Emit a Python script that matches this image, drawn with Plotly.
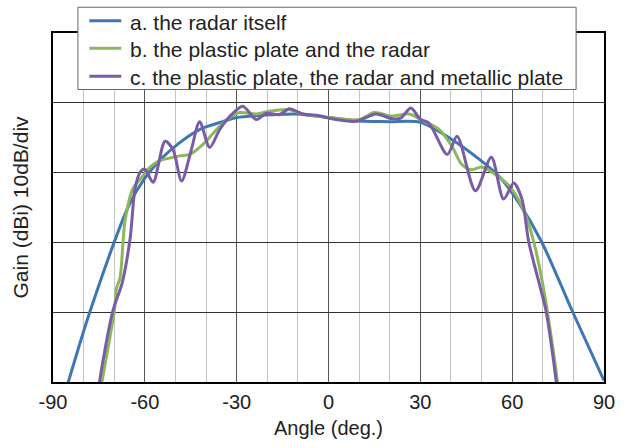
import plotly.graph_objects as go

# Series a: the radar itself
a_deg = [-87, -85, -78, -65, -60, -54.6, -48.6, -42, -34.6, -30, -18, -10.5,
         0, 10, 20, 30, 39.4, 49, 55.6, 62, 69.6, 79.7, 90]
a_gain = [-43, -40, -30, -14.5, -10.8, -8.0, -5.7, -3.8, -2.7, -2.1, -1.7, -1.6,
          -2.1, -2.6, -2.7, -2.8, -5.0, -8.0, -10.5, -14.2, -19.9, -29.9, -39.8]

# Series b: the plastic plate and the radar
b_deg = [-75, -74, -70, -69.2, -68.1, -66.5, -63.9, -60.6, -58.3, -55.1, -48.6, -45.3, -41.1,
         -36.5, -32.3, -29, -23.5, -19.3, -12.7, -8.5, 0.3, 10, 14.9, 20.8, 26.3, 31.8, 36.1,
         40.3, 43.5, 46.8, 50, 55.6, 59.8, 64.4, 67.6, 70.2, 71.5, 74.8, 75.5]
b_gain = [-43, -40, -29.9, -26.5, -25.1, -17.0, -12.3, -10.45, -9.2, -8.3, -7.6, -7.4, -6.0,
          -3.8, -2.1, -1.4, -1.6, -1.2, -1.0, -1.6, -2.1, -2.4, -1.4, -1.9, -1.6, -2.8, -3.8,
          -6.2, -8.8, -9.6, -9.2, -10.6, -12.3, -16.1, -20.9, -26.5, -29.9, -40, -43]

# Series c: the plastic plate, the radar and metallic plate
c_deg = [-75.5, -74.8, -70.5, -67.4, -64.8, -63.2, -61.6, -60, -57.3, -53.4, -50.8, -48, -44.8,
         -42.1, -38.8, -35.5, -31.7, -28, -23.6, -20.3, -16, -12.8, -8.4, -3, 1.2, 9, 15.5,
         20.9, 23.6, 26.9, 30.1, 32.8, 38.8, 42, 48, 53.2, 57.2, 60.5, 63.2, 65.4, 69.2, 71.1,
         74.4, 75]
c_gain = [-43, -40, -29.9, -25.8, -19.4, -12.3, -10.0, -9.5, -11.4, -5.5, -6.7, -11.2, -6.7,
          -2.7, -6.4, -3.8, -1.7, -0.5, -2.4, -1.5, -1.7, -0.85, -1.6, -1.85, -2.3, -2.65, -1.6,
          -2.3, -2.2, -0.75, -2.4, -2.9, -7.4, -4.8, -12.6, -7.8, -13.8, -11.5, -13.8, -19.9,
          -26.5, -29.9, -40, -43]

names = ["a. the radar itself",
         "b. the plastic plate and the radar",
         "c. the plastic plate, the radar and metallic plate"]
colors = ["#3f76b4", "#8cb85c", "#7a5ca6"]

x_ticks = [-90, -60, -30, 0, 30, 60, 90]

W, H = 627, 448
ML, MR, MT, MB = 53, 21, 33, 63
PW, PH = W - ML - MR, H - MT - MB


def px_x(px):
    return (px - ML) / PW


def px_y(py):
    return (H - MB - py) / PH


fig = go.Figure()
for xs, ys, nm, col in [(a_deg, a_gain, names[0], colors[0]),
                        (b_deg, b_gain, names[1], colors[1]),
                        (c_deg, c_gain, names[2], colors[2])]:
    fig.add_trace(go.Scatter(x=xs, y=ys, name=nm, mode="lines", showlegend=False,
                             line=dict(color=col, width=3, shape="spline", smoothing=0.8)))

# Legend box (drawn to match the reference's compact legend)
shapes = [dict(type="rect", xref="paper", yref="paper",
               x0=px_x(78), x1=px_x(578), y0=px_y(90), y1=px_y(7),
               fillcolor="white", line=dict(color="#666", width=1), layer="above")]
annotations = []
row_y = [20.7, 48.5, 76.5]
for nm, col, ry in zip(names, colors, row_y):
    shapes.append(dict(type="line", xref="paper", yref="paper",
                       x0=px_x(89.5), x1=px_x(121.5), y0=px_y(ry), y1=px_y(ry),
                       line=dict(color=col, width=3), layer="above"))
    annotations.append(dict(text=nm, xref="paper", yref="paper",
                            x=px_x(128), y=px_y(ry + 1.5), xanchor="left", yanchor="middle",
                            showarrow=False, font=dict(size=21, color="#222")))

font_family = "Liberation Sans, Arial, sans-serif"
fig.update_layout(
    width=W, height=H,
    margin=dict(l=ML, r=MR, t=MT, b=MB),
    plot_bgcolor="white", paper_bgcolor="white",
    font=dict(family=font_family, size=20, color="#222"),
    showlegend=False,
    shapes=shapes,
    annotations=annotations,
    xaxis=dict(range=[-90, 90], tickvals=x_ticks, ticktext=[str(v) for v in x_ticks],
               showgrid=True, gridcolor="#555", gridwidth=1,
               minor=dict(dtick=10, showgrid=True, gridcolor="#c4c4c4", gridwidth=1),
               showline=True, linecolor="black", linewidth=1.5, mirror=True,
               zeroline=False, ticks="", ticklen=0, ticklabelstandoff=1,
               tickfont=dict(size=20),
               title=dict(text="Angle (deg.)", standoff=9, font=dict(size=20))),
    yaxis=dict(range=[-40, 10], dtick=10, showticklabels=False,
               showgrid=True, gridcolor="#333", gridwidth=1,
               showline=True, linecolor="black", linewidth=1.5, mirror=True,
               zeroline=False, ticks="",
               title=dict(text="Gain (dBi) 10dB/div", standoff=17, font=dict(size=21))),
)

fig.write_html("out.html")
